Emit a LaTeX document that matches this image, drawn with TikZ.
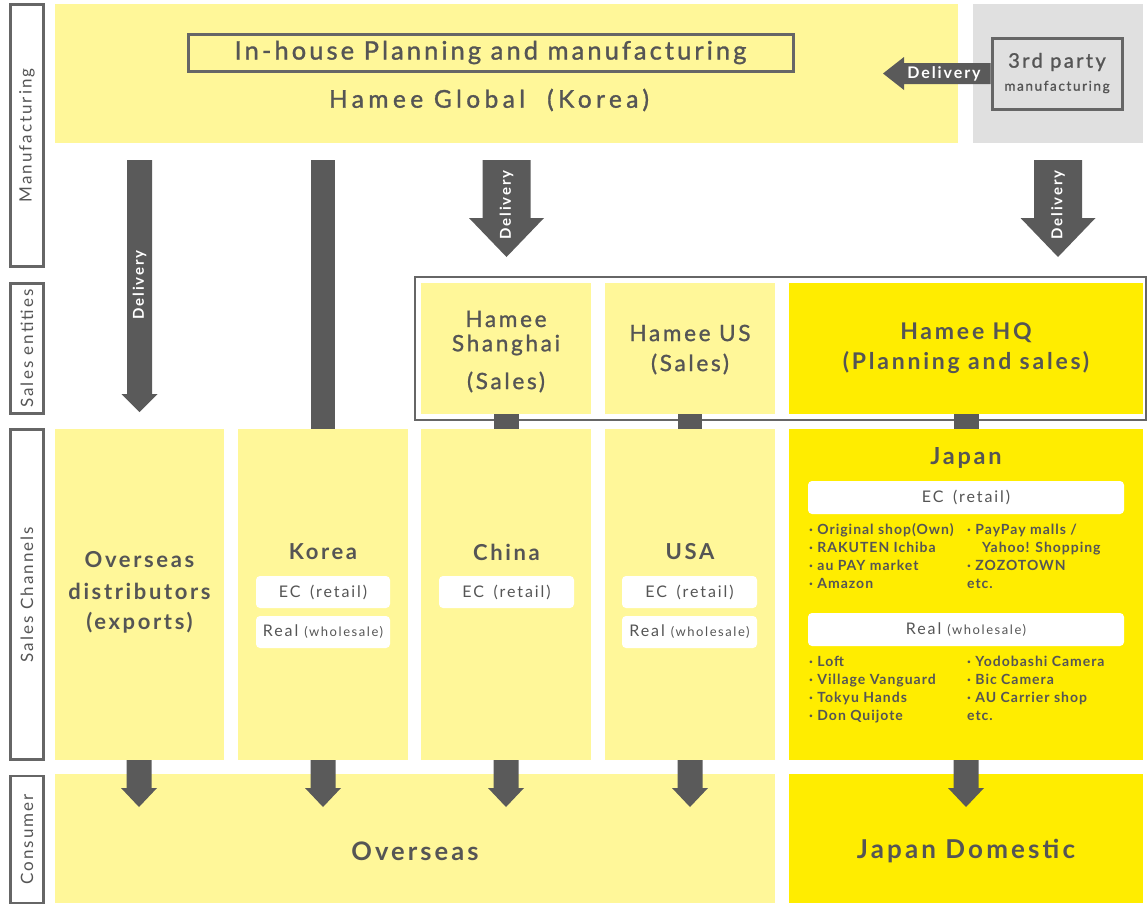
\documentclass[tikz,border=0pt]{standalone}
\usepackage{fontspec}
\setmainfont{Lato}[LetterSpace=12]
\newfontfamily\medf{Lato}[LetterSpace=12,FakeBold=1.2]
\newfontfamily\medwf{Lato}[LetterSpace=18,FakeBold=1.2]
\newfontfamily\itemf{Lato}[LetterSpace=7]
\definecolor{ly}{HTML}{FFF799}
\definecolor{by}{HTML}{FFED00}
\definecolor{gbg}{HTML}{E0E0E0}
\definecolor{dg}{HTML}{5A5A5A}
\definecolor{tx}{HTML}{555555}
\definecolor{bd}{HTML}{666666}
\newcommand\fs[2]{\fontsize{#1}{#2}\selectfont}
\newcommand\fatdown[6]{\fill[dg] (#1-#5,#2) -- (#1+#5,#2) -- (#1+#5,#3) -- (#1+#6,#3) -- (#1,#4) -- (#1-#6,#3) -- (#1-#5,#3) -- cycle;}
\tikzset{
  area/.style={draw=none,inner sep=0pt,anchor=north west},
  lblbox/.style={draw=bd,line width=2.5pt,fill=white,inner sep=0pt,minimum width=33pt},
  lbltext/.style={rotate=90,text=tx,font=\fs{17}{20}},
  wbox/.style={fill=white,rounded corners=4pt,inner sep=0pt,text=tx,font=\fs{16}{18}},
  title/.style={text=tx,font=\fs{22}{26}\bfseries,align=center},
  medt/.style={text=tx,font=\fs{22.5}{26}\medf,align=center},
  deliv/.style={text=white,font=\fs{15}{18}\bfseries},
  item/.style={text=tx,font=\fs{14}{18}\itemf\bfseries,anchor=base west,inner sep=0pt},
}
\newcommand\region[6]{\node[area,fill=#2,minimum width=#5pt,minimum height=#6pt] (#1) at (#3,#4) {};}
\begin{document}
\begin{tikzpicture}[x=1pt,y=-1pt]
\useasboundingbox (0,0) rectangle (1148,905);
% regions
\region{mfg}{ly}{55}{4}{903}{139}
\region{third}{gbg}{973}{4}{170}{139}
\region{shanghai}{ly}{421}{283}{170}{131}
\region{us}{ly}{605}{283}{170}{131}
\region{hq}{by}{789}{283}{354}{131}
\region{ovd}{ly}{55}{429}{169}{331}
\region{korea}{ly}{238}{429}{170}{331}
\region{china}{ly}{421}{429}{170}{331}
\region{usa}{ly}{605}{429}{170}{331}
\region{japan}{by}{789}{429}{354}{331}
\region{overseas}{ly}{55}{774}{720}{129}
\region{jpdom}{by}{789}{774}{354}{129}
% left labels
\node[lblbox,minimum height=262pt] (l1) at (27,135.5) {};
\node[lbltext] (l1t) at (l1) {Manufacturing};
\node[lblbox,minimum height=130pt] (l2) at (27,348.5) {};
\node[lbltext] (l2t) at (l2) {Sales entities};
\node[lblbox,minimum height=330pt] (l3) at (27,594.5) {};
\node[lbltext] (l3t) at (l3) {Sales Channels};
\node[lblbox,minimum height=127pt] (l4) at (27,839.5) {};
\node[lbltext] (l4t) at (l4) {Consumer};
% sales entities frame
\node[draw=bd,line width=2.5pt,inner sep=0pt,minimum width=731pt,minimum height=143pt] (sframe) at (780.5,348.5) {};
% manufacturing texts
\node[draw=bd,line width=3pt,inner sep=0pt,minimum width=605pt,minimum height=37pt,text=tx,font=\fs{25.5}{28}\medf] (inhouse) at (490.5,52.5) {In-house Planning and manufacturing};
\node[medt,font=\fs{24.5}{26}\medwf] (hg) at (489,100) {Hamee Global\hspace{0.9em}(Korea)};
\node[draw=bd,line width=3pt,fill=gbg,inner sep=0pt,minimum width=130pt,minimum height=71pt] (tp) at (1057,73.5) {};
\node[medt,font=\fs{20}{24}\medf] (tp1) at (1057,62) {3rd party};
\node[medt,font=\fs{13.5}{16}\medf] (tp2) at (1057,87) {manufacturing};
% left delivery arrow
\fill[dg] (tp.west |- 0,63) -- (904,63) -- (904,57) -- (883,73.5) -- (904,90) -- (904,84) -- (tp.west |- 0,84) -- cycle;
\node[deliv,font=\fs{16}{18}\bfseries] (dl) at (944,73.5) {Delivery};
% down arrows from manufacturing
\fatdown{139.5}{160}{394}{412}{12.5}{18}
\node[deliv,rotate=90] (d1) at (139.5,285) {Delivery};
\fill[dg] (311,160) rectangle (335,429);
\fatdown{506.5}{160}{218}{257}{24}{37.5}
\node[deliv,rotate=90] (d2) at (506.5,205) {Delivery};
\fatdown{1058}{160}{218}{257}{24}{37.5}
\node[deliv,rotate=90] (d3) at (1058,205) {Delivery};
% sales entities texts
\node[medt] (sh1) at (506,319) {Hamee};
\node[medt] (sh2) at (506,345) {Shanghai};
\node[medt] (sh3) at (506,382) {(Sales)};
\node[medt] (us1) at (690,333) {Hamee US};
\node[medt] (us2) at (690,364) {(Sales)};
\node[title,font=\fs{23}{26}\bfseries] (hq1) at (966,333) {Hamee HQ};
\node[title,font=\fs{23}{26}\bfseries] (hq2) at (966,363) {(Planning and sales)};
% stubs
\fill[dg] (493.5,414) rectangle (518.5,429);
\fill[dg] (678,414) rectangle (702,429);
\fill[dg] (954,414) rectangle (978.5,429);
% sales channel texts
\node[title] (ov1) at (139.5,560) {Overseas};
\node[title] (ov2) at (139.5,591.5) {distributors};
\node[title] (ov3) at (139.5,623) {(exports)};
\node[title] (ko) at (323,552) {Korea};
\node[wbox,minimum width=134pt,minimum height=32pt] (koec) at (323,592) {EC\hspace{0.6em}(retail)};
\node[wbox,minimum width=134pt,minimum height=32pt] (kore) at (323,632) {Real {\fs{13}{15}(wholesale)}};
\node[title] (ch) at (506.5,552) {China};
\node[wbox,minimum width=135pt,minimum height=32pt] (chec) at (506.5,592) {EC\hspace{0.6em}(retail)};
\node[title] (usat) at (690,552) {USA};
\node[wbox,minimum width=135pt,minimum height=32pt] (usec) at (689.5,592) {EC\hspace{0.6em}(retail)};
\node[wbox,minimum width=135pt,minimum height=32pt] (usre) at (689.5,632) {Real {\fs{13}{15}(wholesale)}};
\node[title,font=\fs{23.5}{26}\bfseries] (jp) at (966,458) {Japan};
\node[wbox,minimum width=316pt,minimum height=33pt] (jpec) at (966,497.5) {EC\hspace{0.6em}(retail)};
\node[wbox,minimum width=316pt,minimum height=33pt] (jpre) at (966,629.5) {Real {\fs{13}{15}(wholesale)}};
% Japan lists
\node[item] (e1) at (809,534) {· Original shop(Own)};
\node[item] (e2) at (809,552) {· RAKUTEN Ichiba};
\node[item] (e3) at (809,570) {· au PAY market};
\node[item] (e4) at (809,588) {· Amazon};
\node[item] (e5) at (967,534) {· PayPay malls /};
\node[item] (e6) at (982,552) {Yahoo! Shopping};
\node[item] (e7) at (967,570) {· ZOZOTOWN};
\node[item] (e8) at (967,588) {etc.};
\node[item] (r1) at (809,666) {· Loft};
\node[item] (r2) at (809,684) {· Village Vanguard};
\node[item] (r3) at (809,702) {· Tokyu Hands};
\node[item] (r4) at (809,720) {· Don Quijote};
\node[item] (r5) at (967,666) {· Yodobashi Camera};
\node[item] (r6) at (967,684) {· Bic Camera};
\node[item] (r7) at (967,702) {· AU Carrier shop};
\node[item] (r8) at (967,720) {etc.};
% bottom arrows
\fatdown{139}{760}{788}{807}{12.5}{18}
\fatdown{323}{760}{788}{807}{12.5}{18}
\fatdown{506}{760}{788}{807}{12.5}{18}
\fatdown{690}{760}{788}{807}{12.5}{18}
\fatdown{966}{760}{788}{807}{12.5}{18}
% consumer texts
\node[title,font=\fs{25.5}{28}\bfseries] (ovc) at (415,851) {Overseas};
\node[title,font=\fs{26}{28}\bfseries] (jdc) at (966,851) {Japan Domestic};
\end{tikzpicture}
\end{document}
